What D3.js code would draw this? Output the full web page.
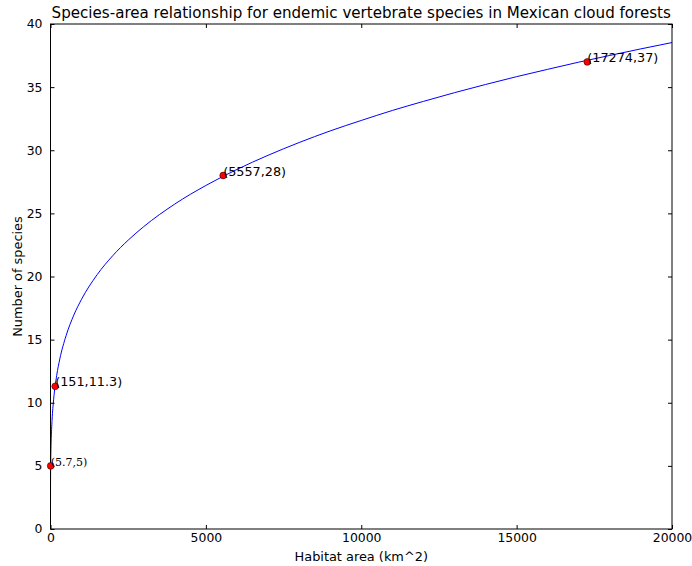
<!DOCTYPE html>
<html><head><meta charset="utf-8">
<script src="https://cdn.jsdelivr.net/npm/d3@7"></script>
<style>html,body{margin:0;padding:0;background:#fff;}svg{display:block;}</style>
</head><body>
<script>
// Fitted curve
const curveArea = [0,1,2,5,10,20,50,100,200,300,500,750,1000,1500,2000,2500,3000,4000,5000,6000,7000,8000,9000,10000,11000,12000,13000,14000,15000,16000,17000,18000,19000,20000];
const curveSpecies = [0,3.24,3.85,4.84,5.75,6.84,8.60,10.23,12.17,13.47,15.30,16.94,18.20,20.14,21.64,22.88,23.95,25.74,27.21,28.48,29.60,30.61,31.53,32.36,33.15,33.87,34.56,35.21,35.83,36.41,36.98,37.51,38.03,38.53];
// Observed points
const pointArea = [5.7,151,5557,17274];
const pointSpecies = [5,11.3,28,37];
const pointLabels = ["(5.7,5)","(151,11.3)","(5557,28)","(17274,37)"];
const xTicks = [0,5000,10000,15000,20000];
const yTicks = [0,5,10,15,20,25,30,35,40];
const title = "Species-area relationship for endemic vertebrate species in Mexican cloud forests";
const xLabel = "Habitat area (km^2)";
const yLabel = "Number of species";

const W=692,H=566;
const m={left:50.5,right:672,top:24,bottom:529};
const svg=d3.select("body").append("svg").attr("width",W).attr("height",H);
const x=d3.scaleLinear().domain([0,20000]).range([m.left,m.right]);
const y=d3.scaleLinear().domain([0,40]).range([m.bottom,m.top]);
const font="DejaVu Sans";

// curve
const line=d3.line().x(d=>x(d[0])).y(d=>y(d[1])).curve(d3.curveMonotoneX);
svg.append("path").datum(curveArea.map((a,i)=>[a,curveSpecies[i]]))
  .attr("d",line).attr("fill","none").attr("stroke","#0000ff").attr("stroke-width",1);

// axes with inward ticks
const axB=d3.axisBottom(x).tickValues(xTicks).tickSizeInner(-4).tickSizeOuter(0).tickPadding(4).tickFormat(d3.format("d"));
const axT=d3.axisTop(x).tickValues(xTicks).tickSizeInner(-4).tickSizeOuter(0).tickFormat("");
const axL=d3.axisLeft(y).tickValues(yTicks).tickSizeInner(-4).tickSizeOuter(0).tickPadding(8);
const axR=d3.axisRight(y).tickValues(yTicks).tickSizeInner(-4).tickSizeOuter(0).tickFormat("");
function style(g){g.selectAll("path").remove();g.selectAll("line").attr("stroke","#000");g.selectAll("text").attr("font-family",font).attr("font-size",12.4).attr("fill","#000");}
svg.append("g").attr("transform",`translate(0,${m.bottom})`).call(axB).call(style);
svg.append("g").attr("transform",`translate(0,${m.top})`).call(axT).call(style);
svg.append("g").attr("transform",`translate(${m.left},0)`).call(axL).call(style);
svg.append("g").attr("transform",`translate(${m.right},0)`).call(axR).call(style);
svg.append("rect").attr("x",m.left).attr("y",m.top).attr("width",m.right-m.left).attr("height",m.bottom-m.top)
  .attr("fill","none").attr("stroke","#000").attr("stroke-width",1);

// points
svg.selectAll("circle.pt").data(pointArea).join("circle").attr("class","pt")
  .attr("cx",d=>x(d)).attr("cy",(d,i)=>y(pointSpecies[i])).attr("r",3.4)
  .attr("fill","#ff0000").attr("stroke","#000").attr("stroke-width",0.5);
svg.selectAll("text.pl").data(pointArea).join("text").attr("class","pl")
  .attr("x",d=>x(d)).attr("y",(d,i)=>y(pointSpecies[i]))
  .attr("font-family",(d,i)=>i===0?"DejaVu Serif":font)
  .attr("font-size",(d,i)=>i===0?11:12.8)
  .attr("fill","#000")
  .text((d,i)=>pointLabels[i]);

// titles
svg.append("text").attr("x",(m.left+m.right)/2).attr("y",18).attr("text-anchor","middle")
  .attr("font-family",font).attr("font-size",15.1).text(title);
svg.append("text").attr("x",(m.left+m.right)/2).attr("y",561).attr("text-anchor","middle")
  .attr("font-family",font).attr("font-size",12.9).text(xLabel);
svg.append("text").attr("transform",`translate(22,${(m.top+m.bottom)/2}) rotate(-90)`).attr("text-anchor","middle")
  .attr("font-family",font).attr("font-size",12.9).text(yLabel);
</script>
</body></html>
